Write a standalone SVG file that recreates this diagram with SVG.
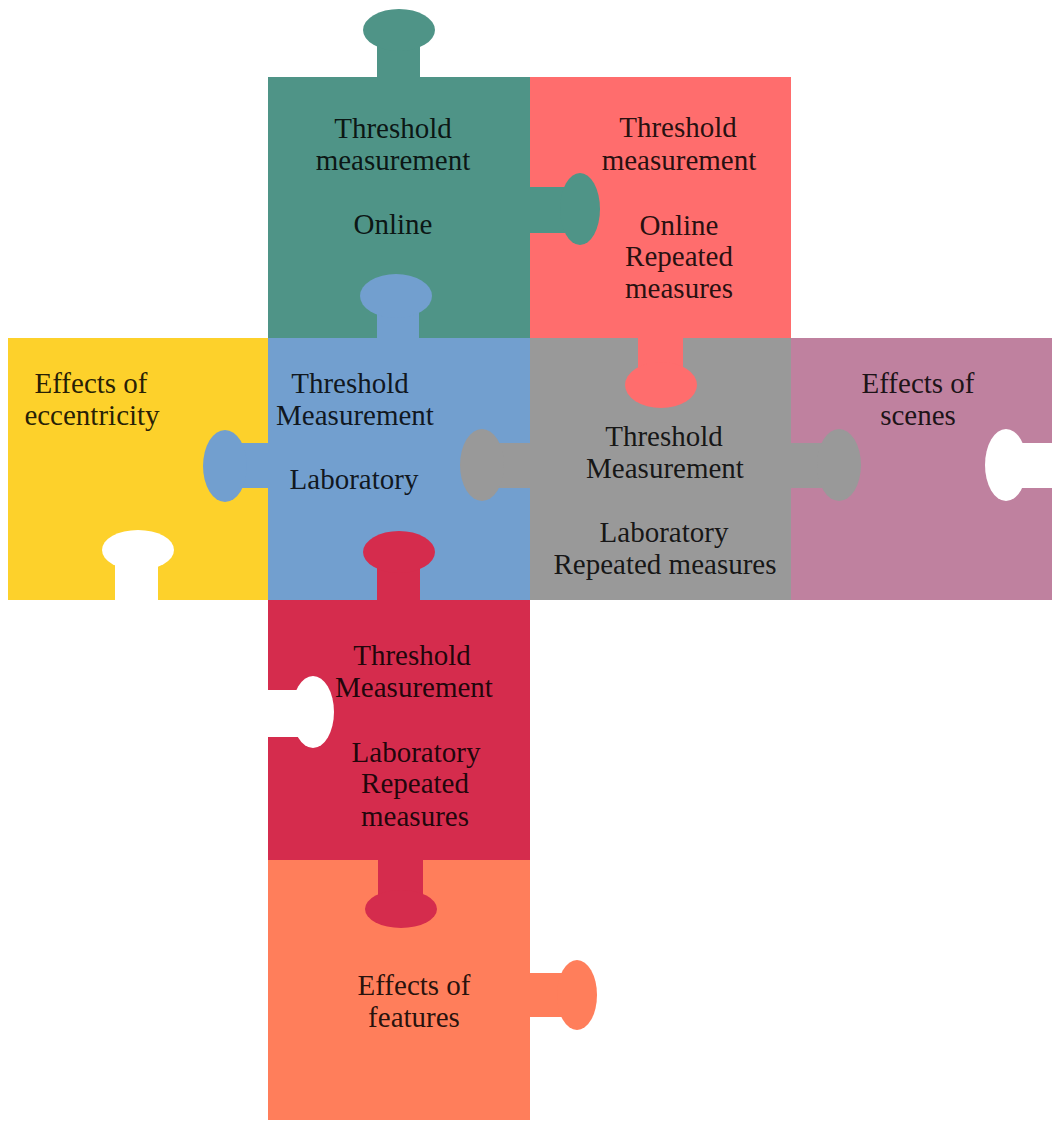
<svg xmlns="http://www.w3.org/2000/svg" width="1054" height="1121" viewBox="0 0 1054 1121">
<style>
.t{font-family:"Liberation Serif","Times New Roman",serif;font-size:29px;text-anchor:middle;fill:#000;fill-opacity:0.86}
.teal{fill:#4f9487}.red{fill:#ff6d6d}.yellow{fill:#fdd12b}.blue{fill:#729fcf}
.gray{fill:#999999}.mauve{fill:#bf819f}.crimson{fill:#d52c4d}.orange{fill:#ff7e5b}.hole{fill:#ffffff}
</style>
<rect width="1054" height="1121" fill="#ffffff"/>
<g id="piece-teal"><rect class="teal" x="268" y="77" width="262" height="261"/></g>
<g id="piece-red"><rect class="red" x="530" y="77" width="261" height="261"/></g>
<g id="piece-yellow"><rect class="yellow" x="8" y="338" width="260" height="262"/></g>
<g id="piece-blue"><rect class="blue" x="268" y="338" width="262" height="262"/></g>
<g id="piece-gray"><rect class="gray" x="530" y="338" width="261" height="262"/></g>
<g id="piece-mauve"><rect class="mauve" x="791" y="338" width="261" height="262"/></g>
<g id="piece-crimson"><rect class="crimson" x="268" y="600" width="262" height="260"/></g>
<g id="piece-orange"><rect class="orange" x="268" y="860" width="262" height="260"/></g>
<g id="connectors">
<g id="tab-teal-top" class="teal"><rect x="377" y="40" width="43" height="38"/><ellipse cx="399" cy="30" rx="36" ry="21"/></g>
<g id="tab-teal-red" class="teal"><rect x="529" y="187" width="36" height="46"/><ellipse cx="580" cy="209" rx="20" ry="36"/></g>
<g id="tab-blue-teal" class="blue"><rect x="377" y="305" width="42" height="34"/><ellipse cx="396" cy="296" rx="36" ry="22"/></g>
<g id="tab-red-gray" class="red"><rect x="638" y="337" width="45" height="40"/><ellipse cx="661" cy="385" rx="36" ry="23"/></g>
<g id="tab-blue-yellow" class="blue"><rect x="235" y="443" width="34" height="45"/><ellipse cx="225" cy="466" rx="22" ry="36"/></g>
<g id="tab-gray-blue" class="gray"><rect x="495" y="443" width="36" height="45"/><ellipse cx="482" cy="465" rx="22" ry="36"/></g>
<g id="tab-gray-mauve" class="gray"><rect x="790" y="443" width="36" height="45"/><ellipse cx="839" cy="465" rx="22" ry="36"/></g>
<g id="slot-mauve-right" class="hole"><rect x="1005" y="443" width="47" height="45"/><ellipse cx="1006" cy="465" rx="21" ry="36"/></g>
<g id="slot-yellow-bottom" class="hole"><rect x="115" y="558" width="43" height="42"/><ellipse cx="138" cy="550" rx="36" ry="20"/></g>
<g id="tab-crimson-blue" class="crimson"><rect x="377" y="565" width="43" height="36"/><ellipse cx="399" cy="552" rx="36" ry="21"/></g>
<g id="slot-crimson-left" class="hole"><rect x="268" y="690" width="40" height="47"/><ellipse cx="313" cy="712" rx="21" ry="36"/></g>
<g id="tab-crimson-orange" class="crimson"><rect x="378" y="859" width="45" height="40"/><ellipse cx="401" cy="909" rx="36" ry="19"/></g>
<g id="tab-orange-right" class="orange"><rect x="529" y="973" width="40" height="44"/><ellipse cx="577" cy="995" rx="20" ry="35"/></g>
</g>
<g id="labels">
<g id="label-teal"><text class="t" x="393" y="138">Threshold</text><text class="t" x="393" y="170">measurement</text><text class="t" x="393" y="234">Online</text></g>
<g id="label-red"><text class="t" x="678" y="137">Threshold</text><text class="t" x="679" y="170">measurement</text><text class="t" x="679" y="235">Online</text><text class="t" x="679" y="266">Repeated</text><text class="t" x="679" y="298">measures</text></g>
<g id="label-yellow"><text class="t" x="91" y="393">Effects of</text><text class="t" x="92" y="425">eccentricity</text></g>
<g id="label-blue"><text class="t" x="350" y="393">Threshold</text><text class="t" x="355" y="425">Measurement</text><text class="t" x="354" y="489">Laboratory</text></g>
<g id="label-gray"><text class="t" x="664" y="446">Threshold</text><text class="t" x="665" y="478">Measurement</text><text class="t" x="664" y="542">Laboratory</text><text class="t" x="665" y="574">Repeated measures</text></g>
<g id="label-mauve"><text class="t" x="918" y="393">Effects of</text><text class="t" x="918" y="425">scenes</text></g>
<g id="label-crimson"><text class="t" x="412" y="665">Threshold</text><text class="t" x="414" y="697">Measurement</text><text class="t" x="416" y="762">Laboratory</text><text class="t" x="415" y="793">Repeated</text><text class="t" x="415" y="826">measures</text></g>
<g id="label-orange"><text class="t" x="414" y="995">Effects of</text><text class="t" x="414" y="1027">features</text></g>
</g>
</svg>
